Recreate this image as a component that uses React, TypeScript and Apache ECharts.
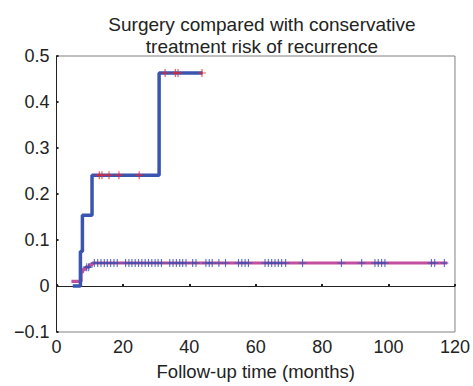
import React, { useEffect, useRef } from "react";
import * as echarts from "echarts";

// Surgery group cumulative risk (step changes: [month, risk])
const surgerySteps: [number, number][] = [
  [4.9, 0],
  [7.2, 0.075],
  [7.8, 0.154],
  [10.7, 0.241],
  [30.9, 0.463],
  [44, 0.463],
];
// Surgery censoring times (months)
const surgeryCensor = [12.9, 13.7, 15.8, 18.8, 24.9, 32.7, 35.8, 36.6, 43.8];

// Conservative group cumulative risk
const conservativeSteps: [number, number][] = [
  [4.5, 0.01],
  [7.4, 0.03],
  [7.9, 0.036],
  [8.7, 0.041],
  [9.9, 0.046],
  [10.8, 0.05],
  [117.7, 0.05],
];
// Conservative censoring times (months)
const conservativeCensor = [
  9.1, 9.7, 11.4, 12.4, 13.4, 14.4, 15.3, 16.3, 17.3, 18.3,
  20.8, 21.8, 22.7, 23.7, 24.7, 25.7, 26.7, 27.7, 28.7, 29.7, 30.6, 31.6,
  34.1, 35.1, 36.1, 37.1, 38.0, 39.0, 41.0, 42.0,
  45.0, 46.0, 46.9, 48.9, 50.9, 54.8, 55.8, 56.8, 57.8,
  62.8, 63.8, 64.8, 65.8, 66.8, 67.8, 69.0, 74.1, 85.8, 91.9,
  95.9, 96.9, 97.9, 98.9, 112.9, 113.9, 116.8,
];

const xTicks = [0, 20, 40, 60, 80, 100, 120];
const yTicks = [-0.1, 0, 0.1, 0.2, 0.3, 0.4, 0.5];
const titleLines = ["Surgery compared with conservative", "treatment risk of recurrence"];
const xName = "Follow-up time (months)";

function valueAt(steps: [number, number][], t: number): number {
  let v = steps[0][1];
  for (const [s, val] of steps) {
    if (s <= t) v = val;
  }
  return v;
}

const plus = "path://M4.3,0H5.7V10H4.3Z M0,4.3H10V5.7H0Z";

export default function App() {
  const ref = useRef<HTMLDivElement>(null);
  useEffect(() => {
    if (!ref.current) return;
    const chart = echarts.init(ref.current, undefined, { renderer: "svg" });
    const font = "Liberation Sans, Arial, Helvetica, sans-serif";
    chart.setOption({
      animation: false,
      backgroundColor: "#ffffff",
      title: {
        text: titleLines.join("\n"),
        left: 257,
        top: 9,
        textAlign: "center",
        textStyle: {
          fontFamily: font,
          fontSize: 19,
          fontWeight: "normal",
          color: "#222",
          lineHeight: 21.5,
        },
      },
      grid: {
        left: 56.5,
        right: 11.3,
        top: 56,
        bottom: 49.3,
        show: true,
        borderColor: "#808080",
        borderWidth: 1,
      },
      xAxis: {
        type: "value",
        min: xTicks[0],
        max: xTicks[xTicks.length - 1],
        interval: 20,
        name: xName,
        nameLocation: "middle",
        nameGap: 30,
        nameTextStyle: { fontFamily: font, fontSize: 18.5, color: "#222" },
        axisLine: { show: true, lineStyle: { color: "#222", width: 1 } },
        axisTick: { show: true, inside: true, length: 2, lineStyle: { color: "#222", width: 2 } },
        axisLabel: { fontFamily: font, fontSize: 18, color: "#222", margin: 6 },
        splitLine: { show: false },
      },
      yAxis: {
        type: "value",
        min: yTicks[0],
        max: yTicks[yTicks.length - 1],
        interval: 0.1,
        axisLine: { show: true, onZero: false, lineStyle: { color: "#222", width: 1 } },
        axisTick: { show: true, inside: true, length: 2, lineStyle: { color: "#222", width: 2 } },
        axisLabel: {
          fontFamily: font,
          fontSize: 18,
          color: "#222",
          margin: 7,
          formatter: (v: number) => {
            const r = Math.round(v * 10) / 10;
            return r === 0 ? "0" : String(r).replace("-", "\u2212");
          },
        },
        splitLine: { show: false },
      },
      series: [
        {
          type: "line",
          step: "end",
          data: conservativeSteps,
          showSymbol: false,
          lineStyle: { color: "#c24f9f", width: 3.2 },
          z: 2,
        },
        {
          type: "scatter",
          data: conservativeCensor.map((t) => [t, valueAt(conservativeSteps, t)]),
          symbol: plus,
          symbolSize: 8,
          itemStyle: { color: "#2f4fae" },
          z: 3,
        },
        {
          type: "line",
          step: "end",
          data: surgerySteps,
          showSymbol: false,
          lineStyle: { color: "#3a55b0", width: 3.5 },
          z: 4,
        },
        {
          type: "scatter",
          data: surgeryCensor.map((t) => [t, valueAt(surgerySteps, t)]),
          symbol: plus,
          symbolSize: 8,
          itemStyle: { color: "#f02030" },
          z: 5,
        },
      ],
    });
    return () => chart.dispose();
  }, []);
  return (
    <div
      ref={ref}
      style={{ position: "fixed", left: 0, top: 0, width: 473, height: 386 }}
    />
  );
}
